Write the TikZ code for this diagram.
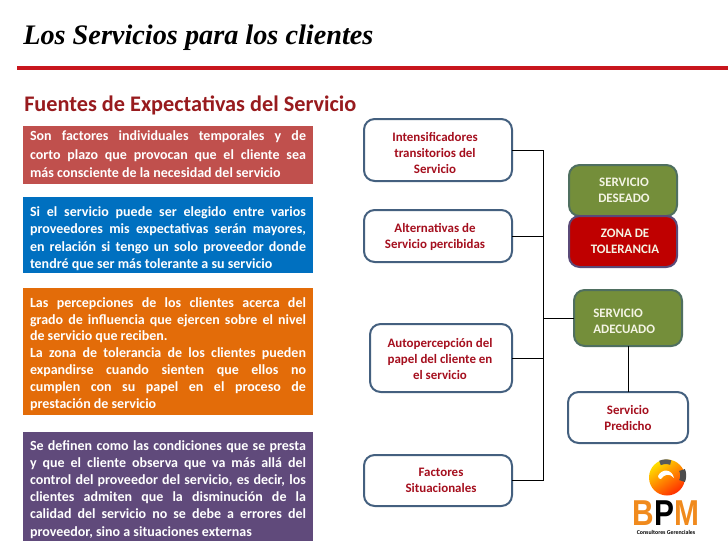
\documentclass[tikz,border=0pt]{standalone}
\usepackage{fontspec}
\setmainfont{Carlito}
\newfontfamily\titlefont{Liberation Serif}
\newfontfamily\logofont{Liberation Sans}
\usetikzlibrary{calc}
\definecolor{boxred}{HTML}{C0504D}
\definecolor{boxblue}{HTML}{0070C0}
\definecolor{boxorange}{HTML}{E36C09}
\definecolor{boxpurple}{HTML}{604A7B}
\definecolor{rulered}{HTML}{C8161D}
\definecolor{headred}{HTML}{981B1E}
\definecolor{labelred}{HTML}{A50F1E}
\definecolor{framebl}{HTML}{44607F}
\definecolor{green}{HTML}{748E3A}
\definecolor{greenfr}{HTML}{4F6F60}
\definecolor{zonared}{HTML}{BF0000}
\definecolor{zonafr}{HTML}{5A4A78}
\definecolor{cream}{HTML}{F4F4E4}
\definecolor{logoor}{HTML}{F08A1D}
\tikzset{
  x=0.75pt,y=-0.75pt,
  leftbox/.style={draw=none,inner sep=0pt,outer sep=0pt,anchor=north west,text=white,
    text width=276*0.75pt,align=justify},
  whitebox/.style={draw=framebl,line width=1.5pt,fill=white,rounded corners=8pt,inner sep=0pt,outer sep=0pt},
  greenbox/.style={draw=greenfr,line width=1.5pt,fill=green,rounded corners=8pt,inner sep=0pt,outer sep=0pt},
  zonabox/.style={draw=zonafr,line width=1.5pt,fill=zonared,rounded corners=8pt,inner sep=0pt,outer sep=0pt},
  redlabel/.style={inner sep=0pt,align=center,text=labelred,font=\fontsize{9.7}{12}\selectfont\bfseries},
  creamlabel/.style={inner sep=0pt,align=center,text=cream,font=\fontsize{9.7}{12}\selectfont\bfseries},
  conn/.style={draw=black,line width=0.7pt},
}
\newcommand{\bx}[6]{% name, style, x1,y1,x2,y2
  \node[#2,minimum width=(#5-#3)*0.75pt,minimum height=(#6-#4)*0.75pt,anchor=center] (#1) at ({(#3+#5)/2},{(#4+#6)/2}) {}}
\begin{document}
\begin{tikzpicture}
\useasboundingbox (0,0) rectangle (728,546);
\fill[white] (0,0) rectangle (728,546);
% title
\node[anchor=base west,inner sep=0pt,font=\fontsize{21.2}{24}\titlefont\bfseries\itshape] (title) at (23,44) {Los Servicios para los clientes};
\coordinate (ruleL) at (17,68); \coordinate (ruleR) at (728,68);
\draw[rulered,line width=2.3pt] (ruleL) -- (ruleR);
\node[anchor=base west,inner sep=0pt,text=headred,font=\fontsize{16.7}{20}\selectfont\bfseries] (head) at (24,111) {Fuentes de Expectativas del Servicio};
% left colour bands
\fill[boxred] (23,126) rectangle (313,184);
\fill[boxblue] (23,197) rectangle (313,273);
\fill[boxorange] (23,288) rectangle (313,415);
\fill[boxpurple] (23,432) rectangle (313,541);
\node[leftbox,font=\fontsize{10.5}{13.7}\selectfont\bfseries] (t1) at (30,131) {Son factores individuales temporales y de\linebreak corto plazo que provocan que el cliente sea\linebreak más consciente de la necesidad del servicio};
\node[leftbox,font=\fontsize{10.5}{13.1}\selectfont\bfseries] (t2) at (30,206.5) {Si el servicio puede ser elegido entre varios\linebreak proveedores mis expectativas serán mayores,\linebreak en relación si tengo un solo proveedor donde\linebreak tendré que ser más tolerante a su servicio};
\node[leftbox,font=\fontsize{10.5}{12.6}\selectfont\bfseries] (t3) at (30,297.5) {Las percepciones de los clientes acerca del\linebreak grado de influencia que ejercen sobre el nivel\linebreak de servicio que reciben.\\ La zona de tolerancia de los clientes pueden\linebreak expandirse cuando sienten que ellos no\linebreak cumplen con su papel en el proceso de\linebreak prestación de servicio};
\node[leftbox,font=\fontsize{10.5}{12.85}\selectfont\bfseries] (t4) at (30,440.5) {Se definen como las condiciones que se presta\linebreak y que el cliente observa que va más allá del\linebreak control del proveedor del servicio, es decir, los\linebreak clientes admiten que la disminución de la\linebreak calidad del servicio no se debe a errores del\linebreak proveedor, sino a situaciones externas};
% right column
\bx{intens}{whitebox}{364}{119}{512}{181};
\bx{alter}{whitebox}{364}{210}{512}{262};
\bx{auto}{whitebox}{370}{324}{512}{392};
\bx{fact}{whitebox}{364}{455}{512}{506};
\bx{deseado}{greenbox}{569}{165}{677}{216};
\bx{zona}{zonabox}{569}{216}{677}{267};
\bx{adec}{greenbox}{574}{290}{682}{346};
\bx{pred}{whitebox}{568}{392}{688}{443};
\node[redlabel] (intenstxt) at ($(intens.center)+(-3,3)$) {Intensificadores\\transitorios del\\Servicio};
\node[redlabel] (altertxt) at ($(alter.center)+(-3,1)$) {Alternativas de\\Servicio percibidas};
\node[redlabel] (autotxt) at ($(auto.center)+(-1,1)$) {Autopercepción del\\papel del cliente en\\el servicio};
\node[redlabel] (facttxt) at ($(fact.center)+(3,0)$) {Factores\\Situacionales};
\node[creamlabel] (deseadotxt) at ($(deseado.center)+(1,0)$) {SERVICIO\\DESEADO};
\node[creamlabel] (zonatxt) at ($(zona.center)+(2,0)$) {ZONA DE\\TOLERANCIA};
\node[creamlabel,anchor=west,align=left] (adectxt) at (593,321) {SERVICIO\\ADECUADO};
\node[redlabel] (predtxt) at ($(pred.center)+(0,0.5)$) {Servicio\\Predicho};
% connectors
\coordinate (busT) at (543,150);
\coordinate (busB) at (543,480);
\coordinate (busA) at (543,236);
\coordinate (busC) at (543,358);
\coordinate (busD) at (543,318);
\draw[conn] (intens.east |- busT) -- (busT) -- (busB) -- (fact.east |- busB);
\draw[conn] (alter.east |- busA) -- (busA);
\draw[conn] (auto.east |- busC) -- (busC);
\draw[conn] (busD) -- (adec.west |- busD);
\draw[conn] (adec.south) -- (pred.north);
% logo
\shade[left color=yellow!75!orange,right color=red!65!orange,shading angle=35] (667,477.5) circle (18);
\fill[white] (658,476) .. controls (662,468) and (672,469) .. (674,478) .. controls (670,473) and (664,474) .. (661,479) .. controls (659,479) and (658,478) .. (658,476) -- cycle;
\draw[black!65,line width=3.5pt] (660,463) arc (-115:-70:14);
\draw[black!70,line width=4.5pt] (682,470) arc (-25:25:13);
\node[anchor=base,inner sep=0pt,font=\fontsize{27}{27}\logofont\bfseries] (bpm) at (666,525.5) {\scalebox{.83}[1]{\textcolor{logoor}{B}\textcolor{black}{P}\textcolor{logoor}{M}}};
\node[anchor=base,inner sep=0pt,font=\fontsize{4.4}{5}\selectfont\bfseries] (cons) at (666,534) {Consultores Gerenciales};
\end{tikzpicture}
\end{document}
